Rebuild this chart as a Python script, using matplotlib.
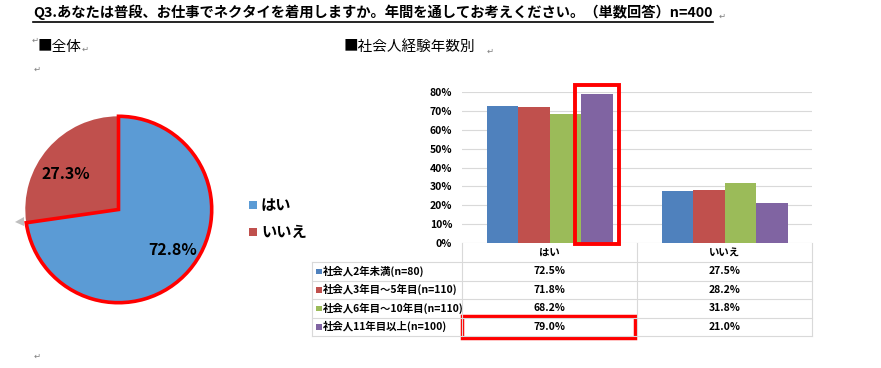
import matplotlib.pyplot as plt
import numpy as np
from matplotlib.patches import Rectangle, Polygon
from matplotlib.lines import Line2D

plt.rcParams['font.family'] = ['Noto Sans CJK JP', 'DejaVu Sans']

# ---- data ----
title = "Q3.あなたは普段、お仕事でネクタイを着用しますか。年間を通してお考えください。（単数回答）n=400"

pie_labels = ['はい', 'いいえ']
pie_values = [72.8, 27.3]
pie_colors = ['#5B9BD5', '#C0504D']

categories = ['はい', 'いいえ']
groups = ['社会人2年未満(n=80)', '社会人3年目～5年目(n=110)',
          '社会人6年目～10年目(n=110)', '社会人11年目以上(n=100)']
yes_values = [72.5, 71.8, 68.2, 79.0]
no_values = [27.5, 28.2, 31.8, 21.0]
group_colors = ['#4F81BD', '#C0504D', '#9BBB59', '#8064A2']
yticks = [0, 10, 20, 30, 40, 50, 60, 70, 80]

W, H = 881, 368


def fx(x):
    return x / W


def fy(y):
    return 1 - y / H


fig = plt.figure(figsize=(W / 100, H / 100), dpi=100)
fig.patch.set_facecolor('white')
grid_c = '#D9D9D9'

# ---- title with underline ----
t = fig.text(fx(33), fy(12), title, fontsize=10.3, weight='bold', va='center', ha='left')
fig.canvas.draw()
bb = t.get_window_extent(renderer=fig.canvas.get_renderer())
fig.add_artist(Line2D([bb.x0 / W, bb.x1 / W], [fy(22), fy(22)], transform=fig.transFigure,
                      color='black', lw=1.2))

fig.text(fx(38), fy(47), '■全体', fontsize=10.5, va='center')
fig.text(fx(344), fy(47), '■社会人経験年数別', fontsize=10.5, va='center')

# paragraph marks
marks = [(35, 40), (85, 49), (490, 51), (bb.x1 + 10, 16), (37, 69), (37, 356)]
for (px, py) in marks:
    fig.text(fx(px), fy(py), '↵', fontsize=6, color='#7F7F7F', va='center', ha='center',
             family='DejaVu Sans')

# ---- pie ----
axp = fig.add_axes([fx(22.5), fy(305.5), 192 / W, 192 / H])
wedges, _ = axp.pie(pie_values, colors=pie_colors, startangle=90, counterclock=False,
                    radius=1, wedgeprops=dict(linewidth=0))
wedges[0].set_edgecolor('#FF0000')
wedges[0].set_linewidth(2.6)
wedges[0].set_zorder(5)
axp.set_xlim(-1.03, 1.03)
axp.set_ylim(-1.03, 1.03)
for w, v, r, off in zip(wedges, pie_values, [0.72, 0.68], [4, 7]):
    ang = np.deg2rad((w.theta1 + w.theta2) / 2 + off)
    axp.text(r * np.cos(ang), r * np.sin(ang), f'{v:.1f}%', fontsize=11.5, weight='bold',
             ha='center', va='center', zorder=10)

fig.add_artist(Polygon([[fx(15), fy(222)], [fx(24), fy(217)], [fx(24), fy(226)]],
                       closed=True, transform=fig.transFigure, facecolor='#BFBFBF', edgecolor='none'))

for i, (lab, col) in enumerate(zip(pie_labels, pie_colors)):
    yy = 205 + i * 27
    fig.add_artist(Rectangle((fx(249), fy(yy + 4)), 8 / W, 8 / H, transform=fig.transFigure,
                             facecolor=col, edgecolor='none'))
    fig.text(fx(261), fy(yy), lab, fontsize=11, weight='bold', va='center')

# ---- bar chart ----
ax = fig.add_axes([fx(462), fy(243), 350 / W, 151 / H])
x = np.arange(len(categories))
bw = 0.18
for i, col in enumerate(group_colors):
    vals = [yes_values[i], no_values[i]]
    ax.bar(x + (i - 1.5) * bw, vals, width=bw, color=col, zorder=3)
ax.set_xlim(-0.5, 1.5)
ax.set_ylim(0, 80)
ax.set_yticks(yticks)
ax.set_yticklabels([f'{v}%' for v in yticks], fontsize=7.5, weight='bold')
ax.set_xticks([])
ax.tick_params(axis='y', length=0, pad=7)
ax.yaxis.grid(True, color=grid_c, lw=0.8)
ax.set_axisbelow(True)
for s in ax.spines.values():
    s.set_visible(False)

# highlight of the purple bar
pi = 3
px0 = x[0] + (pi - 1.5) * bw - bw / 2
ax.add_patch(Rectangle((px0 - 0.035, -0.4), bw + 0.07, yes_values[pi] + 5.0, fill=False,
                       edgecolor='#FF0000', lw=2.8, zorder=6, clip_on=False))

# ---- data table ----
to_px = lambda xv: ax.transData.transform((xv, 0))[0]
bounds = [to_px(v) for v in [-0.5, 0.5, 1.5]]
centers = [to_px(v) for v in x]
left = 312
row_top = 262
row_h = 18.5
n = len(groups)
bottom = row_top + n * row_h


def hline(y, x0, x1):
    fig.add_artist(Line2D([fx(x0), fx(x1)], [fy(y), fy(y)], transform=fig.transFigure,
                          color=grid_c, lw=0.8))


def vline(xv, y0, y1):
    fig.add_artist(Line2D([xv / W, xv / W], [fy(y0), fy(y1)], transform=fig.transFigure,
                          color=grid_c, lw=0.8))


for b in bounds:
    vline(b, 243, bottom)
vline(left, row_top, bottom)
for r in range(n + 1):
    hline(row_top + r * row_h, left, bounds[-1])

for c, cx in zip(categories, centers):
    fig.text(cx / W, fy(253), c, fontsize=7.5, weight='bold', ha='center', va='center')

for r, (g, col) in enumerate(zip(groups, group_colors)):
    yc = row_top + (r + 0.5) * row_h
    fig.add_artist(Rectangle((fx(316), fy(yc + 3)), 5.5 / W, 5.5 / H, transform=fig.transFigure,
                             facecolor=col, edgecolor='none'))
    fig.text(fx(323), fy(yc), g, fontsize=7.5, weight='bold', va='center')
    for cx, vals in zip(centers, [yes_values, no_values]):
        fig.text(cx / W, fy(yc), f'{vals[r]:.1f}%', fontsize=7.5, weight='bold',
                 ha='center', va='center')

# highlight of the 79.0% cell
fig.add_artist(Rectangle((bounds[0] / W, fy(bottom + 2)), (bounds[1] - 2 - bounds[0]) / W,
                         (row_h + 3.5) / H, transform=fig.transFigure, fill=False,
                         edgecolor='#FF0000', lw=2.5))

plt.savefig('out.png', dpi=100)
